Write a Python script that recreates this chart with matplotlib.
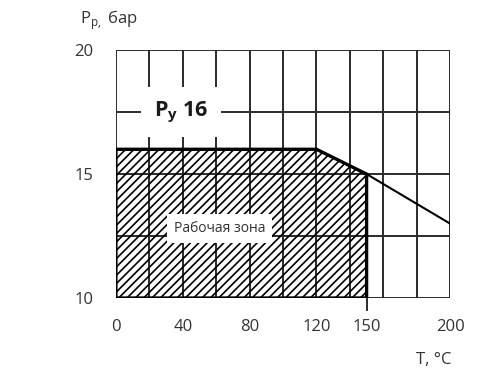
import numpy as np
import matplotlib
matplotlib.use("Agg")
import matplotlib.pyplot as plt
from matplotlib.patches import Polygon

# pressure-temperature curve (T in degC, P in bar)
temp = [0, 120, 150, 200]
pres = [16, 16, 15, 13]

# working zone boundary
zone_t = [0, 0, 120, 150, 150]
zone_p = [10, 16, 16, 15, 10]

xticks = [0, 40, 80, 120, 150, 200]
yticks = [10, 15, 20]
xgrid = np.arange(0, 201, 20)
ygrid = [10, 12.5, 15, 17.5, 20]

plt.rcParams['font.family'] = ['Open Sans', 'DejaVu Sans']
plt.rcParams['hatch.linewidth'] = 1.2

fig = plt.figure(figsize=(4.83, 3.77), dpi=100)
ax = fig.add_axes([0.240, 0.2095, 0.692, 0.6575])

grid_col = '#2b2b2b'
for xv in xgrid:
    ax.axvline(xv, color=grid_col, lw=1.4, zorder=1)
for yv in ygrid:
    ax.axhline(yv, color=grid_col, lw=1.4, zorder=1)

zone = Polygon(list(zip(zone_t, zone_p)), closed=True, facecolor='none',
               edgecolor='black', hatch='////', lw=2.4, zorder=3)
ax.add_patch(zone)
ax.plot(temp, pres, color='black', lw=1.5, zorder=3)
# 150 tick extending below axis
ax.plot([150, 150], [10, 9.5], color=grid_col, lw=1.4, clip_on=False)

ax.text(39, 17.5, r'P$_\mathregular{y}$ 16', fontsize=15.5, fontweight='bold',
        ha='center', va='center', color='#1a1a1a', zorder=5,
        bbox=dict(facecolor='white', edgecolor='none', pad=9))
ax.text(62, 12.8, 'Рабочая зона', fontsize=10, ha='center', va='center',
        color='#333333', zorder=5,
        bbox=dict(facecolor='white', edgecolor='none', pad=5))

ax.set_xlim(0, 200)
ax.set_ylim(10, 20)
for s in ax.spines.values():
    s.set_visible(False)
ax.set_xticks(xticks)
ax.set_yticks(yticks)
ax.tick_params(length=0, labelsize=12, labelcolor='#333333')
ax.tick_params(axis='y', pad=16)
ax.tick_params(axis='x', pad=15)

fig.text(0.166, 0.947, r'P$_\mathregular{р,}$ бар', fontsize=12, color='#333333',
         ha='left', va='center')
fig.text(0.935, 0.045, 'T, °C', fontsize=12, color='#333333',
         ha='right', va='center')

fig.savefig('out.png', dpi=100)
